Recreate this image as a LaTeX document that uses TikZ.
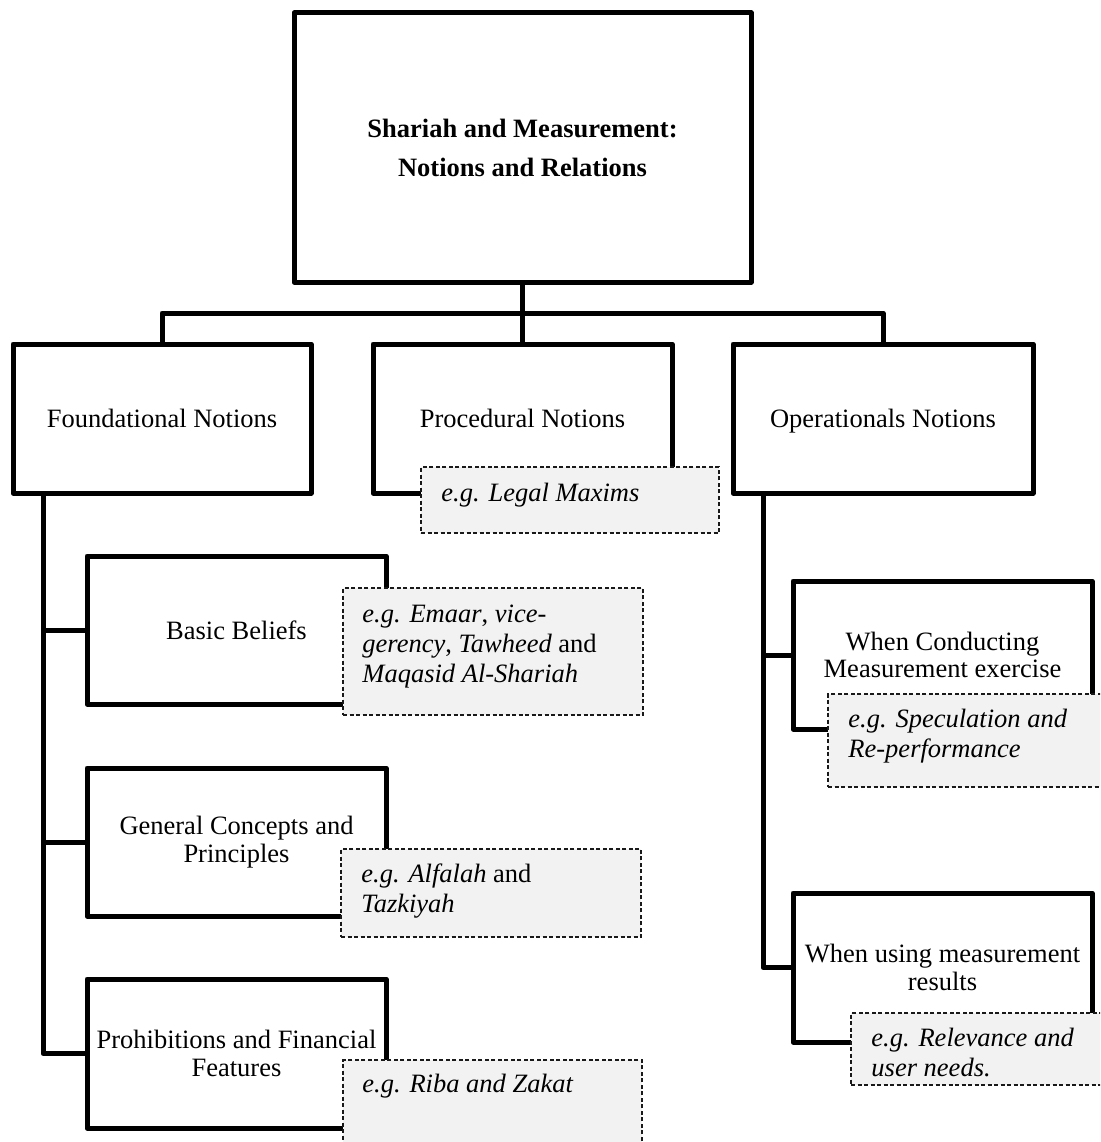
\documentclass[tikz,border=0pt]{standalone}
\usepackage{fontspec}
\setmainfont{Liberation Serif}
\usetikzlibrary{calc}
\definecolor{exfill}{HTML}{F2F2F2}
\begin{document}
\begin{tikzpicture}[x=1pt,y=-1pt,
  box/.style={draw=black, line width=5pt, line join=round, fill=white,
    inner sep=0pt, align=center, font=\fontsize{26.5}{27.5}\selectfont},
  link/.style={draw=black, line width=5pt, line join=round},
  exbox/.style={draw=black!90, line width=1.5pt, dash pattern=on 4pt off 2.5pt,
    fill=exfill, inner sep=0pt},
  extext/.style={anchor=base west, inner sep=0pt,
    font=\fontsize{26.5}{30}\selectfont\itshape}]
\useasboundingbox (0,0) rectangle (1100,1142);
\clip (0,0) rectangle (1100,1142);

% main boxes
\node[box, minimum width=457pt, minimum height=269pt,
  font=\fontsize{26.5}{39}\selectfont\bfseries] (title) at (522.5,147.5)
  {Shariah and Measurement:\\Notions and Relations};
\node[box, minimum width=298pt, minimum height=149pt] (found) at (162,418.5) {Foundational Notions};
\node[box, minimum width=299pt, minimum height=149pt] (proc) at (522.5,418.5) {Procedural Notions};
\node[box, minimum width=300pt, minimum height=149pt, text depth=0pt] (oper) at (883,418.5) {Operationals Notions};
\node[box, minimum width=299pt, minimum height=148pt] (basic) at (236.5,630) {Basic Beliefs};
\node[box, minimum width=299pt, minimum height=148pt] (gen) at (236.5,842) {General Concepts and\\Principles};
\node[box, minimum width=299pt, minimum height=149pt] (prohib) at (236.5,1053.5) {Prohibitions and Financial\\Features};
\node[box, minimum width=299pt, minimum height=148pt] (conduct) at (942.5,655) {When Conducting\\Measurement exercise};
\node[box, minimum width=299pt, minimum height=149pt] (using) at (942.5,967.5) {When using measurement\\results};

% tree connectors
\coordinate (bus) at (522.5,313);
\draw[link] (title.south) -- (bus);
\draw[link] (found.north) |- (bus) -| (oper.north);
\draw[link] (bus) -- (proc.north);

\coordinate (lspine) at (43,0);
\draw[link] (lspine |- found.south) |- (prohib.west);
\draw[link] (lspine |- basic.west) -- (basic.west);
\draw[link] (lspine |- gen.west) -- (gen.west);

\coordinate (rspine) at (763,0);
\draw[link] (rspine |- oper.south) |- (using.west);
\draw[link] (rspine |- conduct.west) -- (conduct.west);

% example boxes
\node[exbox, minimum width=298pt, minimum height=66pt] (exproc) at (570,500) {};
\node[extext] (exproc-t) at ($(exproc.north west)+(21,35)$) {e.g. Legal Maxims};

\node[exbox, minimum width=300pt, minimum height=127pt] (exbasic) at (493,651.5) {};
\node[extext] (exbasic-t) at ($(exbasic.north west)+(20,35)$)
  {\begin{tabular}[t]{@{}l@{}}e.g. Emaar{\upshape,} vice-\\gerency{\upshape,} Tawheed {\upshape and}\\Maqasid Al-Shariah\end{tabular}};

\node[exbox, minimum width=300pt, minimum height=88pt] (exgen) at (491,893) {};
\node[extext] (exgen-t) at ($(exgen.north west)+(21,34)$)
  {\begin{tabular}[t]{@{}l@{}}e.g. Alfalah {\upshape and}\\Tazkiyah\end{tabular}};

\node[exbox, minimum width=299pt, minimum height=100pt] (exprohib) at (492.5,1110) {};
\node[extext] (exprohib-t) at ($(exprohib.north west)+(20,33)$) {e.g. Riba and Zakat};

\node[exbox, minimum width=282pt, minimum height=93pt] (exconduct) at (969,740.5) {};
\node[extext] (exconduct-t) at ($(exconduct.north west)+(21,34)$)
  {\begin{tabular}[t]{@{}l@{}}e.g. Speculation and\\Re-performance\end{tabular}};

\node[exbox, minimum width=259pt, minimum height=72pt] (exusing) at (980.5,1049) {};
\node[extext] (exusing-t) at ($(exusing.north west)+(21,34)$)
  {\begin{tabular}[t]{@{}l@{}}e.g. Relevance and\\user needs.\end{tabular}};
\end{tikzpicture}
\end{document}
